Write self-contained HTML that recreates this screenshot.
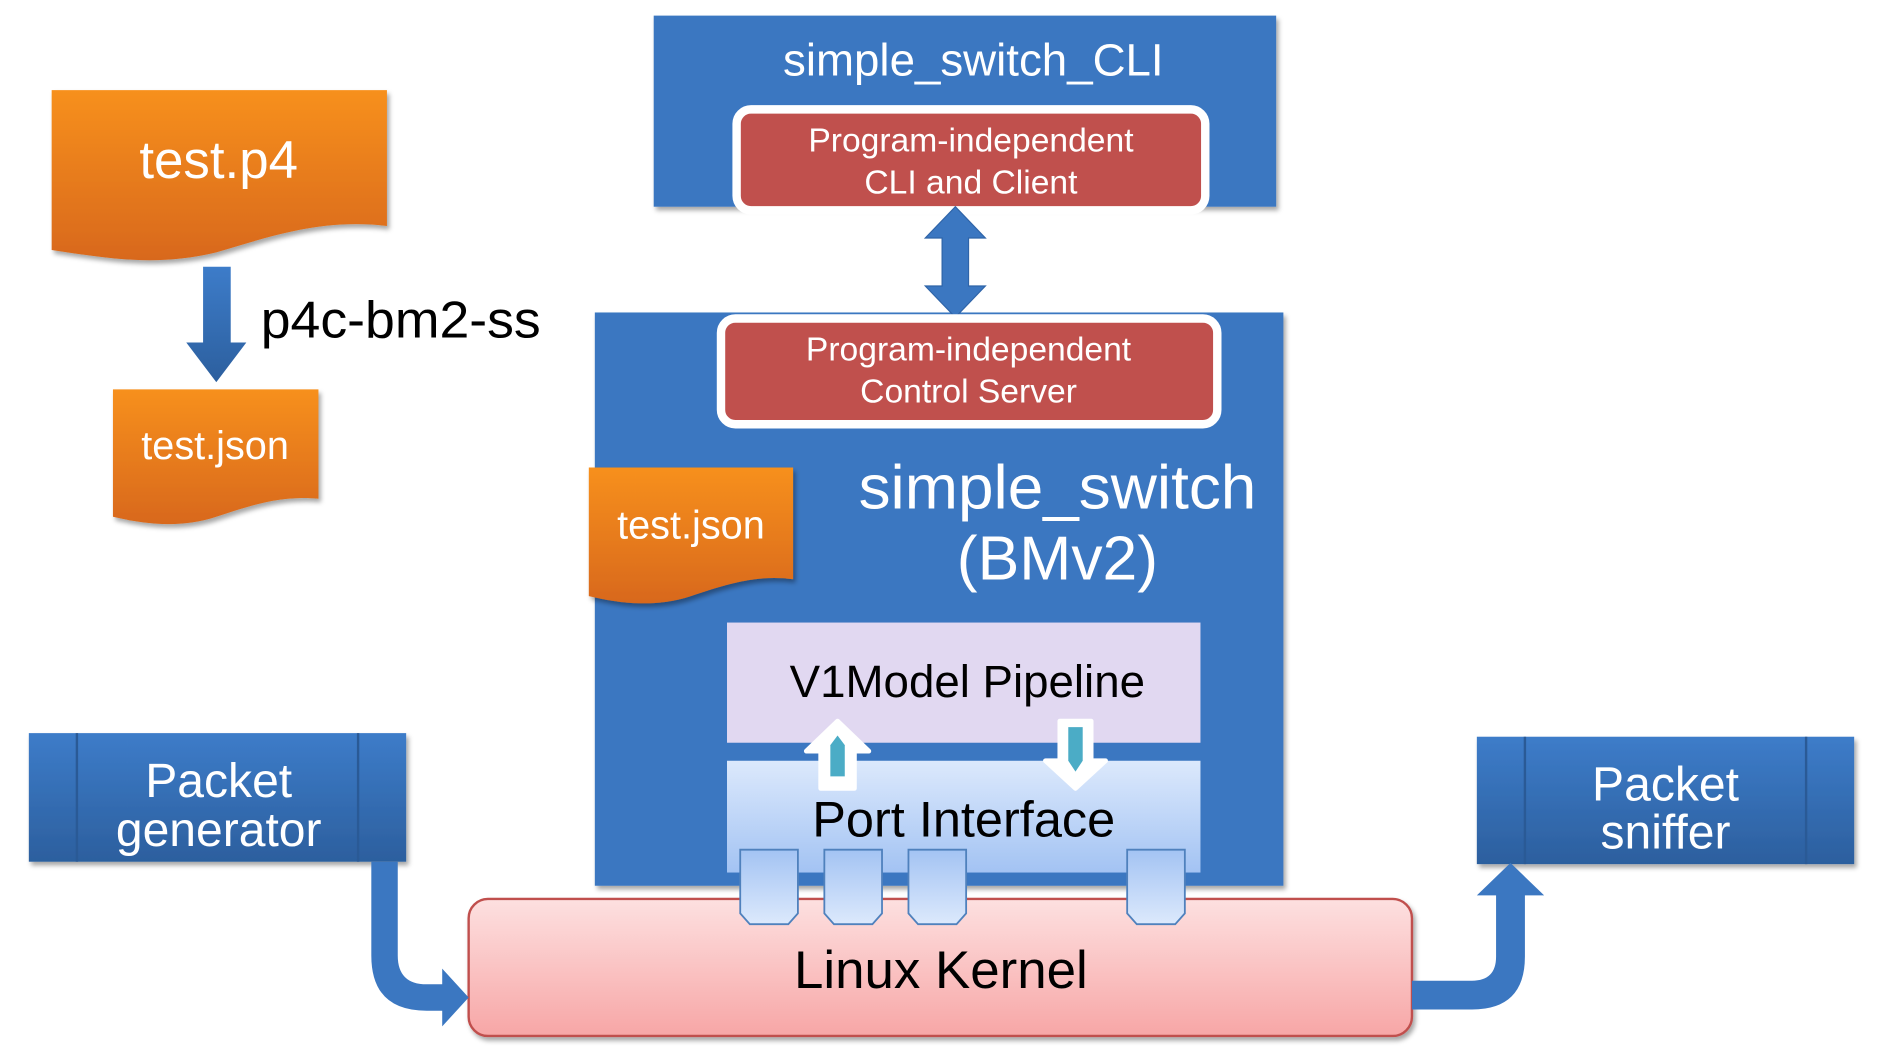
<!DOCTYPE html>
<html><head><meta charset="utf-8"><style>
html,body{margin:0;padding:0;background:#fff;width:1877px;height:1048px;overflow:hidden}
svg{display:block}
text{font-family:"Liberation Sans",sans-serif}
</style></head><body>
<svg width="1877" height="1048" viewBox="0 0 1562 872" preserveAspectRatio="none" xmlns="http://www.w3.org/2000/svg">
<defs>
<linearGradient id="org" x1="0" y1="0" x2="0" y2="1"><stop offset="0" stop-color="#f7901e"/><stop offset="1" stop-color="#d8681a"/></linearGradient>
<linearGradient id="port" x1="0" y1="0" x2="0" y2="1"><stop offset="0" stop-color="#dce9fc"/><stop offset="1" stop-color="#a3c3f3"/></linearGradient>
<linearGradient id="tab" x1="0" y1="0" x2="0" y2="1"><stop offset="0" stop-color="#a3c3f3"/><stop offset="1" stop-color="#dce9fc"/></linearGradient>
<linearGradient id="kern" x1="0" y1="0" x2="0" y2="1"><stop offset="0" stop-color="#fde0e0"/><stop offset="1" stop-color="#f7a6a6"/></linearGradient>
<linearGradient id="blu" x1="0" y1="0" x2="0" y2="1"><stop offset="0" stop-color="#3d7cc9"/><stop offset="1" stop-color="#2c5f9e"/></linearGradient>
<filter id="sh" x="-10%" y="-10%" width="130%" height="130%"><feDropShadow dx="2" dy="3" stdDeviation="2" flood-opacity="0.35"/></filter>
</defs>

<path d="M43 75 H322 V188 C270 182 230 195 180 210 C130 222 90 215 43 208 Z" fill="url(#org)" filter="url(#sh)"/>
<text x="182" y="148" font-size="44" fill="#fff" text-anchor="middle">test.p4</text>
<path d="M169 222 H192 V285 H205 L180 318 L155 285 H169 Z" fill="url(#blu)"/>
<text x="217" y="281" font-size="43" fill="#000" textLength="233" lengthAdjust="spacingAndGlyphs">p4c-bm2-ss</text>
<path d="M94 324 H265 V415 C235 412 210 420 180 430 C150 440 120 436 94 430 Z" fill="url(#org)" filter="url(#sh)"/>
<text x="179" y="382" font-size="33" fill="#fff" text-anchor="middle">test.json</text>

<rect x="544" y="13" width="518" height="159" fill="#3b77c1" filter="url(#sh)"/>
<text x="810" y="63" font-size="38" fill="#fff" text-anchor="middle">simple_switch_CLI</text>
<rect x="613" y="91" width="390" height="84" rx="12" fill="#c0504d" stroke="#fff" stroke-width="7"/>
<text x="808" y="126" font-size="28" fill="#fff" text-anchor="middle">Program-independent</text>
<text x="808" y="161" font-size="28" fill="#fff" text-anchor="middle">CLI and Client</text>

<rect x="495" y="260" width="573" height="477" fill="#3b77c1" filter="url(#sh)"/>
<path d="M795 172 L820 198 H806 V238 H820 L795 264 L770 238 H784 V198 H770 Z" fill="#3b77c1" stroke="#2f64a8" stroke-width="1"/>
<rect x="600" y="265" width="413" height="88" rx="12" fill="#c0504d" stroke="#fff" stroke-width="7"/>
<text x="806" y="300" font-size="28" fill="#fff" text-anchor="middle">Program-independent</text>
<text x="806" y="335" font-size="28" fill="#fff" text-anchor="middle">Control Server</text>
<text x="880" y="423" font-size="52" fill="#fff" text-anchor="middle" textLength="331" lengthAdjust="spacingAndGlyphs">simple_switch</text>
<text x="880" y="482" font-size="52" fill="#fff" text-anchor="middle">(BMv2)</text>
<path d="M490 389 H660 V482 C630 478 605 486 575 496 C545 506 515 502 490 496 Z" fill="url(#org)" filter="url(#sh)"/>
<text x="575" y="448" font-size="33" fill="#fff" text-anchor="middle">test.json</text>

<rect x="605" y="518" width="394" height="100" fill="#e1d8f1"/>
<text x="805" y="580" font-size="38" fill="#000" text-anchor="middle">V1Model Pipeline</text>
<rect x="605" y="633" width="394" height="93" fill="url(#port)"/>
<text x="802" y="696" font-size="42" fill="#000" text-anchor="middle">Port Interface</text>

<path d="M697 600 L723 625 H711 V656 H683 V625 H671 Z" fill="#fff" stroke="#fff" stroke-width="4" stroke-linejoin="round"/>
<path d="M697 612 L703 620 V646 H691 V620 Z" fill="#4bacc6"/>
<path d="M882 600 H908 V633 H920 L895 656 L870 633 H882 Z" fill="#fff" stroke="#fff" stroke-width="4" stroke-linejoin="round"/>
<path d="M889 605 H901 V633 L895 642 L889 633 Z" fill="#4bacc6"/>

<rect x="390" y="748" width="785" height="114" rx="16" fill="url(#kern)" stroke="#c0504d" stroke-width="2" filter="url(#sh)"/>
<text x="783" y="822" font-size="44" fill="#000" text-anchor="middle">Linux Kernel</text>

<g fill="url(#tab)" stroke="#4f81bd" stroke-width="1.5">
<path d="M616 707 H664 V760 L656 769 H624 L616 760 Z"/>
<path d="M686 707 H734 V760 L726 769 H694 L686 760 Z"/>
<path d="M756 707 H804 V760 L796 769 H764 L756 760 Z"/>
<path d="M938 707 H986 V760 L978 769 H946 L938 760 Z"/>
</g>

<rect x="24" y="610" width="314" height="107" fill="url(#blu)" filter="url(#sh)"/>
<line x1="64" y1="610" x2="64" y2="717" stroke="#2a5a96" stroke-width="2"/>
<line x1="298" y1="610" x2="298" y2="717" stroke="#2a5a96" stroke-width="2"/>
<text x="182" y="663" font-size="40" fill="#fff" text-anchor="middle">Packet</text>
<text x="182" y="704" font-size="40" fill="#fff" text-anchor="middle">generator</text>
<rect x="1229" y="613" width="314" height="106" fill="url(#blu)" filter="url(#sh)"/>
<line x1="1269" y1="613" x2="1269" y2="719" stroke="#2a5a96" stroke-width="2"/>
<line x1="1503" y1="613" x2="1503" y2="719" stroke="#2a5a96" stroke-width="2"/>
<text x="1386" y="666" font-size="40" fill="#fff" text-anchor="middle">Packet</text>
<text x="1386" y="706" font-size="40" fill="#fff" text-anchor="middle">sniffer</text>

<path d="M309 717 H331 V795 Q331 819 355 819 H368 V806 L390 830 L368 854 V841 H355 Q309 841 309 795 Z" fill="#3b77c1"/>
<path d="M1175 816 H1225 Q1245 816 1245 796 V745 H1229 L1257 718 L1285 745 H1269 V796 Q1269 840 1225 840 H1175 Z" fill="#3b77c1"/>
</svg>
</body></html>
